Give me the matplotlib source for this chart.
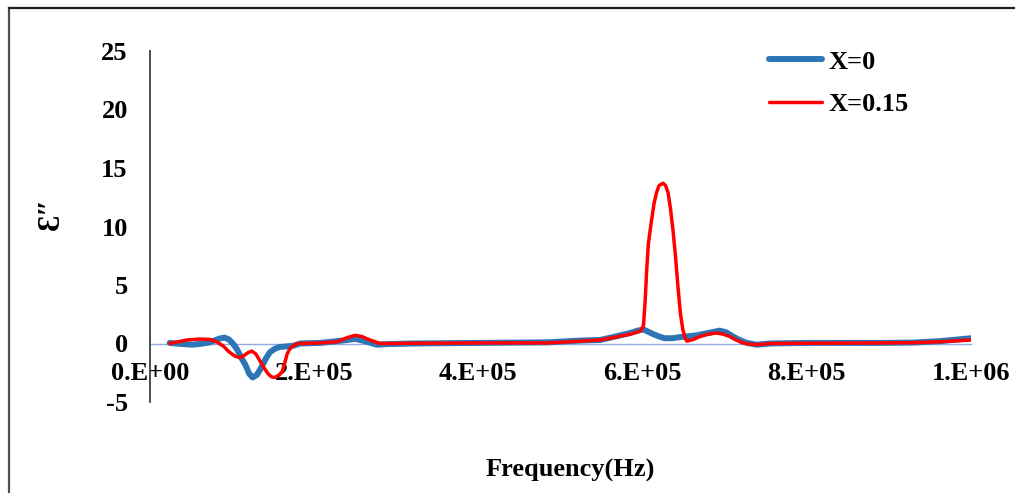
import matplotlib
matplotlib.use("Agg")
import matplotlib.pyplot as plt
from matplotlib.lines import Line2D

# FONT like Times New Roman bold
plt.rcParams['font.family'] = ['Liberation Serif', 'DejaVu Serif']
plt.rcParams['font.weight'] = 'bold'
plt.rcParams['font.size'] = 19
plt.rcParams['axes.unicode_minus'] = False

# frequencies in Hz
freq_x0 = [24e3, 40e3, 52e3, 63e3, 73e3, 80e3, 86e3, 91e3, 96e3, 101e3, 106e3,
           111e3, 116e3, 121e3, 125e3, 130e3, 136e3, 141e3, 146e3, 152e3, 158e3,
           174e3, 183e3, 207e3, 228e3, 240e3, 250e3, 262e3, 276e3, 290e3, 320e3,
           400e3, 484e3, 524e3, 548e3, 564e3, 585e3, 594e3, 601e3, 607e3, 613e3,
           620e3, 627e3, 636e3, 646e3, 666e3, 680e3, 694e3, 702e3, 710e3, 718e3,
           727e3, 739e3, 755e3, 800e3, 889e3, 930e3, 962e3, 1000e3]
eps_x0 = [0.05, -0.05, -0.1, -0.02, 0.1, 0.3, 0.45, 0.5, 0.35, 0.0, -0.5,
          -1.2, -1.8, -2.6, -2.9, -2.7, -2.0, -1.3, -0.75, -0.45, -0.3,
          -0.2, 0.0, 0.05, 0.2, 0.3, 0.4, 0.2, -0.1, -0.05, 0.0,
          0.05, 0.1, 0.25, 0.3, 0.55, 0.9, 1.1, 1.2, 1.0, 0.8,
          0.6, 0.45, 0.45, 0.55, 0.7, 0.9, 1.1, 0.95, 0.6, 0.3,
          0.05, -0.1, 0.0, 0.05, 0.05, 0.08, 0.2, 0.45]

freq_x015 = [24e3, 45e3, 60e3, 73e3, 81e3, 89e3, 96e3, 104e3, 109e3, 113e3,
             119e3, 124e3, 129e3, 134e3, 139e3, 144e3, 148e3, 152e3, 157e3,
             161e3, 164e3, 167e3, 170e3, 174e3, 180e3, 207e3, 228e3, 240e3,
             250e3, 258e3, 268e3, 280e3, 320e3, 400e3, 484e3, 524e3, 548e3,
             564e3, 585e3, 597e3, 601e3, 603e3, 605e3, 607e3, 611e3, 614e3,
             617e3, 620e3, 625e3, 628e3, 631e3, 634e3, 637e3, 640e3, 643e3,
             646e3, 649e3, 652e3, 654e3, 662e3, 670e3, 680e3, 690e3, 698e3,
             706e3, 714e3, 722e3, 730e3, 739e3, 755e3, 800e3, 889e3, 930e3,
             962e3, 1000e3]
eps_x015 = [0.0, 0.3, 0.38, 0.35, 0.15, -0.2, -0.7, -1.1, -1.2, -1.1,
            -0.8, -0.65, -0.9, -1.5, -2.1, -2.6, -2.85, -2.9, -2.7,
            -2.4, -1.7, -0.9, -0.5, -0.2, 0.0, 0.05, 0.15, 0.5,
            0.7, 0.6, 0.3, 0.0, 0.02, 0.05, 0.05, 0.2, 0.3,
            0.5, 0.8, 1.05, 1.5, 3.5, 6.3, 8.5, 10.6, 12.0,
            12.9, 13.5, 13.7, 13.5, 12.9, 11.5, 9.7, 7.5, 4.9,
            2.6, 1.2, 0.4, 0.2, 0.35, 0.6, 0.8, 0.9, 0.8,
            0.6, 0.3, 0.05, -0.05, -0.1, 0.0, 0.02, 0.05, 0.07,
            0.15, 0.3]

xticks = [0, 2e5, 4e5, 6e5, 8e5, 1e6]
xtick_labels = ['0.E+00', '2.E+05', '4.E+05', '6.E+05', '8.E+05', '1.E+06']
yticks = [-5, 0, 5, 10, 15, 20, 25]

fig = plt.figure(figsize=(10.15, 4.93), dpi=100)
ax = fig.add_axes([150 / 1015, 1 - 402 / 493, 821 / 1015, 351 / 493])

ax.plot(freq_x0, eps_x0, color='#2E75B6', lw=4.3, solid_capstyle='round',
        solid_joinstyle='round', label='X=0')
ax.plot(freq_x015, eps_x015, color='#FF0000', lw=2.5, solid_capstyle='round',
        solid_joinstyle='round', label='X=0.15')

ax.set_xlim(0, 1e6)
ax.set_ylim(-5, 25)
ax.set_xticks(xticks)
ax.set_xticklabels(xtick_labels)
ax.set_yticks(yticks)

ax.spines['top'].set_visible(False)
ax.spines['right'].set_visible(False)
ax.spines['bottom'].set_position(('data', 0))
ax.spines['bottom'].set_color('#8FAADC')
ax.spines['bottom'].set_linewidth(1.0)
ax.spines['bottom'].set_zorder(0)
ax.spines['left'].set_color('#404040')
ax.spines['left'].set_linewidth(1.3)
ax.tick_params(axis='x', length=0, pad=13)
ax.tick_params(axis='y', length=0, pad=16)

leg = ax.legend(loc='upper left', bbox_to_anchor=(756 / 1015, 1 - 37 / 493),
                bbox_transform=fig.transFigure, frameon=False, borderpad=0,
                handlelength=2.0, handletextpad=0.25, labelspacing=0.72)

fig.text(51 / 1015, 1 - 213 / 493, 'Ɛ″', rotation=90, ha='center', va='center',
         fontsize=22)
fig.text(570 / 1015, 1 - 470 / 493, 'Frequency(Hz)', ha='center', va='center')

# border of the chart area (left and top only are visible)
fig.add_artist(Line2D([8.5 / 1015, 8.5 / 1015], [0, 1 - 8 / 493],
                      transform=fig.transFigure, color='#505050', lw=1.6))
fig.add_artist(Line2D([8.5 / 1015, 1], [1 - 8 / 493, 1 - 8 / 493],
                      transform=fig.transFigure, color='#202020', lw=1.6))

plt.savefig('out.png', dpi=100)
